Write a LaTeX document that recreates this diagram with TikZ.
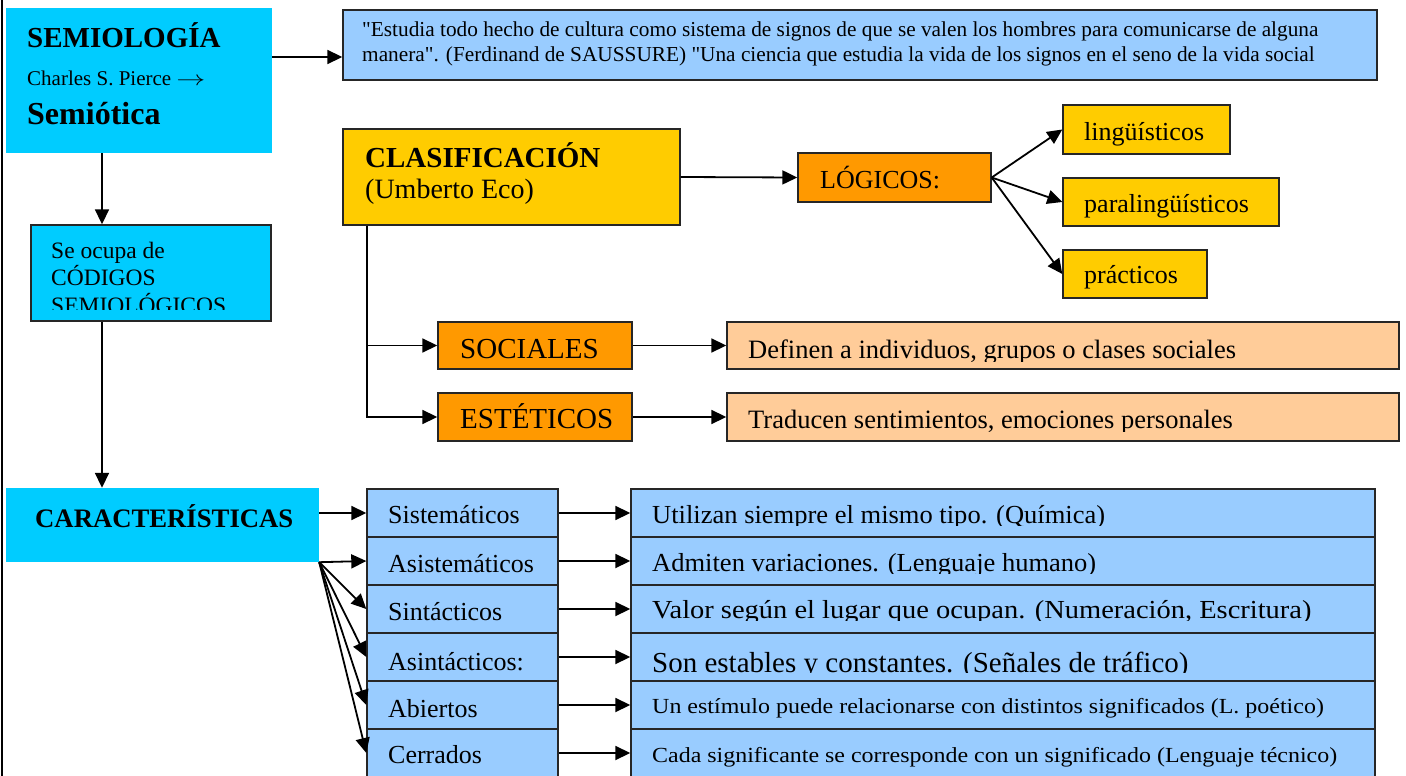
\documentclass[tikz,border=0pt]{standalone}
\usepackage{fontspec}
\setmainfont{Liberation Serif}
\usetikzlibrary{arrows, arrows.meta, positioning, calc}
\definecolor{cyanbox}{HTML}{00CCFF}
\definecolor{bluebox}{HTML}{99CCFF}
\definecolor{yellowbox}{HTML}{FFCC00}
\definecolor{orangebox}{HTML}{FF9900}
\definecolor{peachbox}{HTML}{FFCC99}
\newcommand{\fsz}[1]{\fontsize{#1}{#1}\selectfont}

\begin{document}
\begin{tikzpicture}[x=1pt, y=-1pt,
    box/.style={rectangle, draw=black!85, line width=1.4pt, inner sep=0pt},
    flat/.style={rectangle, inner sep=0pt},
    txt/.style={anchor=base west, inner sep=0pt},
    arr/.style={-{Triangle[length=15pt,width=14pt]}, line width=1.8pt}]
    \useasboundingbox (0,0) rectangle (1406,776);
    % Frame
    \draw[line width=2pt] (2,0) -- (2,776);
    % Semiologia
    \node[flat, fill=cyanbox, minimum width=266, minimum height=145] (semio) at (139,80.5) {};
    \node[txt, font=\bfseries\fsz{29}] (semiot) at (27,48) {SEMIOLOGÍA};
    \node[txt, font=\fsz{21}] (pierce) at (27,85) {Charles S. Pierce \scalebox{1.4}[1]{$\rightarrow$}};
    \node[txt, font=\bfseries\fsz{32}] (semiotica) at (27,124) {Semiótica};
    % Definition
    \node[box, fill=bluebox, minimum width=1034, minimum height=70] (quote) at (860,45) {};
    \node[txt, font=\fsz{21.3}] (q1) at (362,37) {\textquotedbl Estudia todo hecho de cultura como sistema de signos de que se valen los hombres para comunicarse de alguna};
    \node[txt, font=\fsz{21.3}] (q2) at (362,62) {manera\textquotedbl. (Ferdinand de SAUSSURE) \textquotedbl Una ciencia que estudia la vida de los signos en el seno de la vida social};
    \draw[arr] ([yshift=23.5pt]semio.east) -- ([yshift=23.5pt]semio.east -| quote.west);
    % Codigos
    \node[box, fill=cyanbox, minimum width=240, minimum height=96] (seocupa) at (151,273) {};
    \node[txt, font=\fsz{23.5}] (oc1) at (51,258) {Se ocupa de};
    \node[txt, font=\fsz{23.5}] (oc2) at (51,285) {CÓDIGOS};
    \begin{scope}
        \clip (31,225) rectangle (271,309);
        \node[txt, font=\fsz{23.5}] (oc3) at (51,313) {SEMIOLÓGICOS.};
    \end{scope}
    \coordinate (spine) at (102,0);
    \draw[arr] (semio.south -| spine) -- (seocupa.north -| spine);
    % Clasificacion
    \node[box, fill=yellowbox, minimum width=337, minimum height=96] (clas) at (511.5,177) {};
    \node[txt, font=\bfseries\fsz{29}] (clas1) at (365,167) {CLASIFICACIÓN};
    \node[txt, font=\fsz{28}] (clas2) at (365,198) {(Umberto Eco)};
    \node[box, fill=orangebox, minimum width=193, minimum height=49] (logicos) at (894.5,177.5) {};
    \node[txt, font=\fsz{26}] (logt) at (820,188) {LÓGICOS:};
    \draw[arr] (clas.east) -- (logicos.west);
    \node[box, fill=yellowbox, minimum width=167, minimum height=49] (ling) at (1146.5,129.5) {};
    \node[txt, font=\fsz{26}] (lingt) at (1084,140) {lingüísticos};
    \node[box, fill=yellowbox, minimum width=216, minimum height=48] (para) at (1171,202) {};
    \node[txt, font=\fsz{26}] (parat) at (1084,212) {paralingüísticos};
    \node[box, fill=yellowbox, minimum width=144, minimum height=48] (prac) at (1135,274) {};
    \node[txt, font=\fsz{26}] (pract) at (1084,283) {prácticos};
    \draw[arr] (logicos.east) -- (ling.west);
    \draw[arr] (logicos.east) -- (para.west);
    \draw[arr] (logicos.east) -- (prac.west);
    % Sociales / Esteticos
    \node[box, fill=orangebox, minimum width=194, minimum height=47] (soc) at (535,345.5) {};
    \node[txt, font=\fsz{29}] (soct) at (460,358) {SOCIALES};
    \node[box, fill=orangebox, minimum width=194, minimum height=48] (est) at (535,417) {};
    \node[txt, font=\fsz{29}] (estt) at (460,428) {ESTÉTICOS};
    \node[box, fill=peachbox, minimum width=672, minimum height=47] (def) at (1063,345.5) {};
    \begin{scope}
        \clip (727,322) rectangle (1399,361);
        \node[txt, font=\fsz{26.5}] (deft) at (748,358) {Definen a individuos, grupos o clases sociales};
    \end{scope}
    \node[box, fill=peachbox, minimum width=672, minimum height=48] (trad) at (1063,417) {};
    \begin{scope}
        \clip (727,393) rectangle (1399,431);
        \node[txt, font=\fsz{26.5}] (tradt) at (748,428) {Traducen sentimientos, emociones personales};
    \end{scope}
    \coordinate (trunk) at ([xshift=25pt]clas.south west);
    \draw[arr] (trunk) |- (soc.west);
    \draw[arr] (trunk) |- (est.west);
    \draw[arr] (soc.east) -- (def.west);
    \draw[arr] (est.east) -- (trad.west);
    % Caracteristicas
    \node[flat, fill=cyanbox, minimum width=313, minimum height=74] (caract) at (162.5,525) {};
    \node[txt, font=\bfseries\fsz{26.7}] (caractt) at (35,527) {CARACTERÍSTICAS};
    \draw[arr] (seocupa.south -| spine) -- (caract.north -| spine);
    \foreach \i/\lt/\rt/\sz/\sx/\lb/\rb/\cut in {
        1/Sistemáticos/{Utilizan siempre el mismo tipo. (Química)}/26/1.02/10/10/2,
        2/Asistemáticos/{Admiten variaciones. (Lenguaje humano)}/26/1.02/11/10/2,
        3/Sintácticos/{Valor según el lugar que ocupan. (Numeración, Escritura)}/26/1.095/11/9/2,
        4/Asintácticos:/{Son estables y constantes. (Señales de tráfico)}/29/1.0/13/15/0.5,
        5/Abiertos/{Un estímulo puede relacionarse con distintos significados (L. poético)}/21.5/1.115/12/8/20,
        6/Cerrados/{Cada significante se corresponde con un significado (Lenguaje técnico)}/21.5/1.114/10/9/20}{
        \pgfmathsetmacro\yc{465+48*\i}
        \node[box, fill=bluebox, minimum width=191, minimum height=48] (l\i) at (462.5,\yc) {};
        \node[box, fill=bluebox, minimum width=744, minimum height=48] (r\i) at (1003,\yc) {};
        \node[txt, font=\fsz{26}] (lt\i) at (388,{\yc+\lb}) {\lt};
        \begin{scope}
            \clip (631,{\yc-24}) rectangle (1375,{\yc+\rb+\cut});
            \node[txt, font=\fsz{\sz}] (rt\i) at (652,{\yc+\rb}) {\scalebox{\sx}[1]{\rt}};
        \end{scope}
        \draw[arr] (l\i.east) -- (r\i.west);
    }
    \draw[arr] (caract.east |- l1.west) -- (l1.west);
    \foreach \i in {2,...,6}
        \draw[arr] (caract.south east) -- (l\i.west);
\end{tikzpicture}
\end{document}
